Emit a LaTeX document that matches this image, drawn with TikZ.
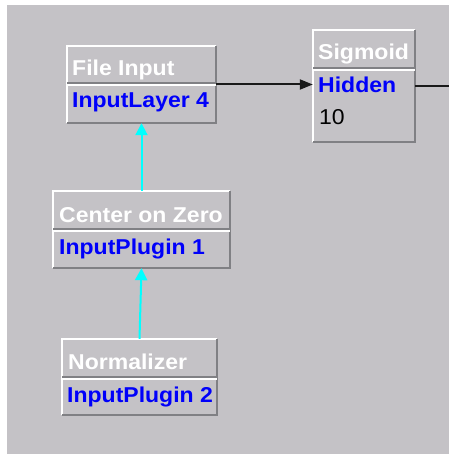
\documentclass[tikz,border=0pt]{standalone}
\usepackage{fontspec}
\usetikzlibrary{arrows.meta,fit}
\newfontfamily\uifont[FakeStretch=1.07]{Liberation Sans}
\definecolor{panelgrey}{RGB}{196,194,198}
\definecolor{shadowgrey}{RGB}{128,128,132}
\definecolor{labelblue}{RGB}{0,0,250}
\tikzset{
  jboxstyle/.style={fill=panelgrey, draw=none, inner sep=0pt},
  bevlight/.style={white, line width=1.5pt},
  bevdark/.style={shadowgrey, line width=2pt},
  headtext/.style={anchor=base west, inner sep=0pt, text=white, font=\uifont\fontsize{21.5}{25}\selectfont\bfseries},
  bodytext/.style={anchor=base west, inner sep=0pt, text=labelblue, font=\uifont\fontsize{21.5}{25}\selectfont\bfseries},
  plaintext/.style={anchor=base west, inner sep=0pt, text=black, font=\uifont\fontsize{21.5}{25}\selectfont},
  cyanlink/.style={draw={rgb,255:red,0;green,255;blue,255}, line width=2pt, -{Triangle[length=12pt,width=12pt]}},
  blacklink/.style={draw=black!90, line width=2pt, -{Triangle[length=13pt,width=10pt]}},
  plainlink/.style={draw=black!90, line width=2pt},
}
\newcommand\jbox[6]{%
  \node[jboxstyle, fit={(#2,#3) (#4,#5)}] (#1) {};
  \draw[bevlight] (#1.south west) -- (#1.north west) -- (#1.north east);
  \draw[bevdark] (#1.north east) -- (#1.south east) -- (#1.south west);
  \draw[bevdark] (#2,#6) -- (#4,#6);
  \draw[bevlight] (#2,{#6+2}) -- (#4,{#6+2});
}
\begin{document}
\begin{tikzpicture}[x=1pt,y=-1pt]
\useasboundingbox (0,0) rectangle (449,454);
\fill[white] (0,0) rectangle (449,454);
\fill[panelgrey] (7,5) rectangle (449,454);

\jbox{fi}{67}{46}{216}{123}{83}
\node[headtext] (fiH) at (72,76) {File Input};
\node[bodytext] (fiB) at (72,108) {InputLayer 4};

\jbox{sg}{313}{30}{415}{142}{68}
\node[headtext] (sgH) at (318,60) {Sigmoid};
\node[bodytext] (sgB) at (318,93) {Hidden};
\node[plaintext] (sgN) at (319,125) {10};

\jbox{cz}{53}{191}{230}{268}{229}
\node[headtext] (czH) at (59,222) {Center on Zero};
\node[bodytext] (czB) at (59,254) {InputPlugin 1};

\jbox{nz}{62}{339}{217}{415}{377}
\node[headtext] (nzH) at (68,369) {Normalizer};
\node[bodytext] (nzB) at (67,402) {InputPlugin 2};

\coordinate (outR) at (449,86);
\draw[blacklink] (fi.east) -- (fi.east -| sg.west);
\draw[plainlink] (sg.east |- outR) -- (outR);
\draw[cyanlink] (cz.north) -- (fi.south);
\draw[cyanlink] (nz.north) -- (cz.south);
\end{tikzpicture}
\end{document}
